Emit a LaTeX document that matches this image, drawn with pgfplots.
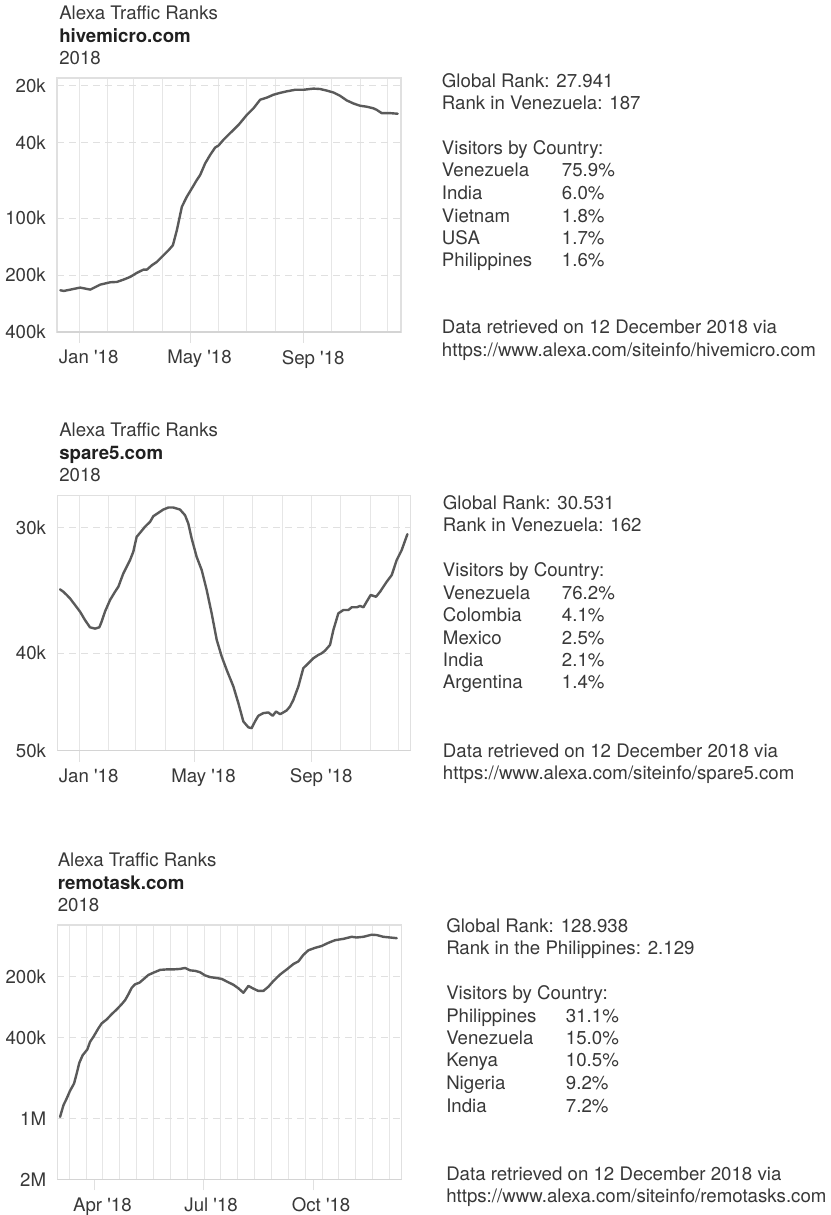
\documentclass[border=0pt]{standalone}
\usepackage{fontspec}
\setmainfont{TeX Gyre Heros}
\usepackage{pgfplots}
\pgfplotsset{compat=1.18}
\definecolor{txt}{HTML}{383838}
\definecolor{ttl}{HTML}{202020}
\definecolor{gridc}{HTML}{E6E6E6}
\definecolor{framec}{HTML}{E0E0E0}
\definecolor{botc}{HTML}{D4D4D4}
\definecolor{linec}{HTML}{5A5A5A}
\newcommand{\q}{\textquotesingle}

\pgfplotsset{alexa/.style={
  scale only axis, anchor=north west,
  y dir=reverse,
  axis line style={draw=framec, line width=0.8pt},
  xmajorgrids, xminorgrids, ymajorgrids,
  major x grid style={draw=gridc, line width=0.75pt},
  minor x grid style={draw=gridc, line width=0.75pt},
  major y grid style={draw=framec, line width=0.75pt, dash pattern=on 5pt off 4pt},
  major tick length=8.25pt, minor tick length=0pt,
  tick align=outside,
  xtick pos=lower, ytick pos=left,
  xtick style={draw=framec, line width=0.8pt},
  ytick style={draw=none},
  tick label style={font=\fontsize{14}{16}\selectfont, text=txt},
  yticklabel style={anchor=east, inner sep=0pt},
  xticklabel style={anchor=north, inner sep=0pt, yshift=-5.25pt, xshift=7pt},
},
ln/.style={draw=linec, line width=1.8pt, line join=round, line cap=round, mark=none}}

\begin{document}
\begin{tikzpicture}
\useasboundingbox (0,0) rectangle (623.25pt,-911.25pt);

% ---------- panel 1: hivemicro.com ----------
\begin{semilogyaxis}[alexa, at={(42.75pt,-58.5pt)}, width=258pt, height=190.5pt,
  xmin=-24.1, xmax=348.1, ymin=18200, ymax=400000,
  xtick={0,120,243}, xticklabels={Jan \q18, May \q18, Sep \q18},
  minor xtick={31,59,90,151,181,212,273,304,334},
  ytick={20000,40000,100000,200000,400000},
  yticklabels={20k,40k,100k,200k,400k}]
\addplot[ln] coordinates {(-20.5,240700) (-16.9,242700) (-9.7,238800) (1.1,233000) (11.9,238800) (22.7,224700) (33.5,218400) (40.7,217500) (47.9,211400) (55.1,204600) (62.3,194800) (69.5,187200) (73.2,187200) (78.6,177500) (84.0,170400) (91.2,157100) (96.6,147900) (101.3,139100) (105.6,115800) (111.0,87100) (116.4,77100) (121.8,69700) (127.2,62900) (130.8,59200) (136.2,51400) (141.6,46400) (147.0,42400) (150.6,41400) (156.0,38600) (163.2,35600) (172.3,32200) (181.3,28500) (188.5,26300) (195.7,23700) (202.9,23100) (210.1,22300) (217.3,21800) (224.5,21400) (233.5,21000) (242.5,21000) (253.3,20700) (260.5,20800) (267.7,21200) (275.0,21700) (282.2,22600) (289.4,23900) (296.6,24800) (303.8,25500) (311.0,25800) (318.2,26300) (321.8,26800) (327.2,27900) (336.2,27900) (344.5,28100)};
\draw[draw=botc, line width=1.1pt] (axis description cs:0,0) -- (axis description cs:1,0);
\end{semilogyaxis}

% ---------- panel 2: spare5.com ----------
\begin{semilogyaxis}[alexa, at={(43pt,-371.8pt)}, width=265pt, height=191.25pt,
  xmin=-23, xmax=346.3, ymin=27900, ymax=50000,
  xtick={0,120,243}, xticklabels={Jan \q18, May \q18, Sep \q18},
  minor xtick={31,59,90,151,181,212,273,304,334},
  ytick={30000,40000,50000},
  yticklabels={30k,40k,50k}]
\addplot[ln] coordinates {(-20.2,34560) (-16.7,34750) (-13.2,35010) (-9.8,35280) (-4.5,35820) (0.7,36370) (5.9,37070) (11.1,37700) (16.4,37810) (20.9,37700) (23.3,37210) (26.8,36370) (32.1,35410) (37.3,34750) (40.8,34350) (46.0,33320) (53.0,32320) (56.4,31710) (59.9,30650) (63.4,30370) (68.6,29950) (73.9,29610) (77.4,29230) (82.6,29010) (87.8,28790) (93.0,28660) (98.3,28660) (105.2,28790) (110.5,29170) (113.9,29730) (117.4,30760) (122.6,32080) (127.9,33070) (133.1,34610) (138.3,36510) (143.6,38800) (148.8,40300) (154.0,41550) (161.0,43160) (166.2,44830) (171.4,46750) (176.7,47390) (180.1,47470) (183.6,46750) (187.1,46150) (192.3,45870) (197.6,45800) (202.1,46150) (205.6,45700) (209.8,45980) (213.2,45800) (216.7,45590) (220.2,45180) (223.7,44500) (228.9,43160) (234.1,41390) (237.6,41080) (241.1,40770) (244.6,40460) (249.8,40150) (253.3,40000) (256.8,39760) (262.0,39250) (265.5,37930) (270.7,36510) (276.0,36230) (281.2,36230) (284.7,36010) (289.9,36010) (293.4,35900) (296.9,36010) (300.3,35550) (304.5,35010) (310.1,35150) (314.3,34750) (321.3,33960) (326.5,33450) (331.7,32320) (336.9,31590) (342.9,30460)};
\draw[draw=botc, line width=1.1pt] (axis description cs:0,0) -- (axis description cs:1,0);
\end{semilogyaxis}

% ---------- panel 3: remotask.com ----------
\begin{semilogyaxis}[alexa, at={(43pt,-693.75pt)}, width=258.3pt, height=190.7pt,
  xmin=59.0, xmax=347.2, ymin=111100, ymax=2000000,
  xmajorgrids=false,
  xtick={90,181,273}, xticklabels={Apr \q18, Jul \q18, Oct \q18},
  xticklabel style={xshift=-1pt},
  minor xtick={69,83.1,...,337},
  ytick={200000,400000,1000000,2000000},
  yticklabels={200k,400k,1M,2M}]
\addplot[ln] coordinates {(61.3,984000) (64.1,862000) (66.8,799000) (69.6,732000) (73.0,673000) (75.2,601000) (77.4,532000) (80.2,488000) (84.1,457000) (86.4,419000) (89.2,396000) (93.3,360000) (96.1,340000) (100.3,325000) (104.5,306000) (108.7,290000) (112.9,273000) (115.7,261000) (118.5,244000) (121.2,227000) (124.0,218000) (127.7,214000) (131.0,206000) (135.2,196000) (139.4,191000) (145.0,185000) (150.5,184000) (156.1,184000) (161.7,183000) (165.9,181000) (170.1,186000) (174.2,187000) (178.4,190000) (182.6,197000) (186.8,200800) (192.4,203000) (196.6,205000) (200.7,211000) (206.3,219000) (210.5,228000) (214.7,240000) (218.9,222000) (223.1,229000) (227.2,235000) (231.4,235000) (235.6,224000) (239.8,210000) (245.4,195000) (251.0,184000) (256.6,173000) (260.7,168000) (264.9,156000) (269.1,148000) (274.7,144000) (280.2,141000) (285.8,136000) (291.4,132000) (298.4,130000) (305.3,127000) (309.5,128000) (315.1,127000) (322.1,124000) (326.3,124500) (331.8,127000) (337.4,128000) (343.0,129000)};
\draw[draw=botc, line width=1.1pt] (axis description cs:0,0) -- (axis description cs:1,0);
\end{semilogyaxis}

% ---------- texts ----------
\begin{scope}[x=0.75pt, y=-0.75pt, every node/.style={anchor=base west, inner sep=0pt, font=\fontsize{14}{16}\selectfont, text=txt}]
% panel 1
\node at (59,19) {Alexa Traffic Ranks};
\node[text=ttl, font=\fontsize{14}{16}\selectfont\bfseries] at (59,42.7) {hivemicro.com};
\node at (59,64.3) {2018};
\node at (441.7,87) {Global Rank: 27.941};
\node at (441.7,109.3) {Rank in Venezuela: 187};
\node at (441.7,154) {Visitors by Country:};
\node at (441.7,176.7) {Venezuela};   \node at (561.7,176.7) {75.9\%};
\node at (441.7,199.3) {India};       \node at (561.7,199.3) {6.0\%};
\node at (441.7,222) {Vietnam};       \node at (561.7,222) {1.8\%};
\node at (441.7,244) {USA};           \node at (561.7,244) {1.7\%};
\node at (441.7,266.7) {Philippines}; \node at (561.7,266.7) {1.6\%};
\node at (441.7,333.3) {Data retrieved on 12 December 2018 via};
\node at (441.7,356) {https://www.alexa.com/siteinfo/hivemicro.com};
% panel 2
\node at (59,436.7) {Alexa Traffic Ranks};
\node[text=ttl, font=\fontsize{14}{16}\selectfont\bfseries] at (59,459) {spare5.com};
\node at (59,481.7) {2018};
\node at (442.7,509.3) {Global Rank: 30.531};
\node at (442.7,531.7) {Rank in Venezuela: 162};
\node at (442.7,576.7) {Visitors by Country:};
\node at (442.7,599.3) {Venezuela};  \node at (561.7,599.3) {76.2\%};
\node at (442.7,621.7) {Colombia};   \node at (561.7,621.7) {4.1\%};
\node at (442.7,644) {Mexico};       \node at (561.7,644) {2.5\%};
\node at (442.7,666) {India};        \node at (561.7,666) {2.1\%};
\node at (442.7,688.7) {Argentina};  \node at (561.7,688.7) {1.4\%};
\node at (442.7,757.3) {Data retrieved on 12 December 2018 via};
\node at (442.7,779.3) {https://www.alexa.com/siteinfo/spare5.com};
% panel 3
\node at (57.5,866.7) {Alexa Traffic Ranks};
\node[text=ttl, font=\fontsize{14}{16}\selectfont\bfseries] at (57.5,889) {remotask.com};
\node at (57.5,911.7) {2018};
\node at (446,932.3) {Global Rank: 128.938};
\node at (446,954) {Rank in the Philippines: 2.129};
\node at (446,999.3) {Visitors by Country:};
\node at (446,1022) {Philippines}; \node at (565.7,1022) {31.1\%};
\node at (446,1044.7) {Venezuela}; \node at (565.7,1044.7) {15.0\%};
\node at (446,1066.7) {Kenya};     \node at (565.7,1066.7) {10.5\%};
\node at (446,1089.3) {Nigeria};   \node at (565.7,1089.3) {9.2\%};
\node at (446,1112) {India};       \node at (565.7,1112) {7.2\%};
\node at (446,1180) {Data retrieved on 12 December 2018 via};
\node at (446,1202) {https://www.alexa.com/siteinfo/remotasks.com};
\end{scope}
\end{tikzpicture}
\end{document}
